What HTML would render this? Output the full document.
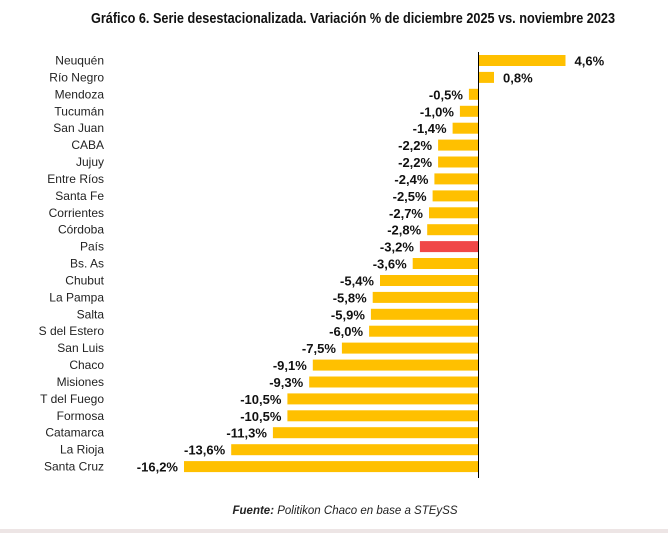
<!DOCTYPE html>
<html><head><meta charset="utf-8"><style>
body{margin:0;background:#fff;}
svg{display:block;}
</style></head><body>
<svg width="668" height="533" xmlns="http://www.w3.org/2000/svg" font-family="Liberation Sans, Arial, sans-serif">
<rect width="668" height="533" fill="#fff"/>
<text x="353" y="23" text-anchor="middle" font-family="Liberation Sans Narrow, Liberation Sans, sans-serif" font-weight="bold" font-size="15" fill="#111" textLength="524" lengthAdjust="spacingAndGlyphs">Gráfico 6. Serie desestacionalizada. Variación % de diciembre 2025 vs. noviembre 2023</text>
<g id="bars"></g>
<line x1="478.5" y1="52" x2="478.5" y2="478" stroke="#000" stroke-width="1"/>
<text x="345" y="514" text-anchor="middle" font-size="11.5" font-style="italic" fill="#222"><tspan font-weight="bold">Fuente:</tspan> Politikon Chaco en base a STEySS</text>
<rect x="0" y="529" width="668" height="4" fill="#ede5e5"/>
</svg>
<script>
var d=[["Neuquén",4.6],["Río Negro",0.8],["Mendoza",-0.5],["Tucumán",-1.0],["San Juan",-1.4],["CABA",-2.2],["Jujuy",-2.2],["Entre Ríos",-2.4],["Santa Fe",-2.5],["Corrientes",-2.7],["Córdoba",-2.8],["País",-3.2],["Bs. As",-3.6],["Chubut",-5.4],["La Pampa",-5.8],["Salta",-5.9],["S del Estero",-6.0],["San Luis",-7.5],["Chaco",-9.1],["Misiones",-9.3],["T del Fuego",-10.5],["Formosa",-10.5],["Catamarca",-11.3],["La Rioja",-13.6],["Santa Cruz",-16.2]];
var g=document.getElementById("bars"),h="";
var ax=478;
d.forEach(function(r,i){
 var top=55+i*16.92;
 var v=r[1],w,x;
 if(v>0){w=v*18.8;x=ax+1;}else{w=-v*18.15;x=ax-w;}
 var c=r[0]=="País"?"#f04848":"#ffc000";
 h+='<rect x="'+x.toFixed(1)+'" y="'+top.toFixed(1)+'" width="'+w.toFixed(1)+'" height="11" fill="'+c+'"/>';
 var cy=top+10;
 h+='<text x="104" y="'+(cy-0.5).toFixed(1)+'" text-anchor="end" font-size="12" fill="#222">'+r[0]+'</text>';
 var s=(v>0?"":"-")+Math.abs(v).toFixed(1).replace(".",",")+"%";
 if(v>0)h+='<text x="'+(x+w+9).toFixed(1)+'" y="'+(cy+0.5).toFixed(1)+'" font-size="13" font-weight="bold" fill="#111">'+s+'</text>';
 else h+='<text x="'+(x-6).toFixed(1)+'" y="'+(cy+0.5).toFixed(1)+'" text-anchor="end" font-size="13" font-weight="bold" fill="#111">'+s+'</text>';
});
g.innerHTML=h;
</script>
</body></html>
